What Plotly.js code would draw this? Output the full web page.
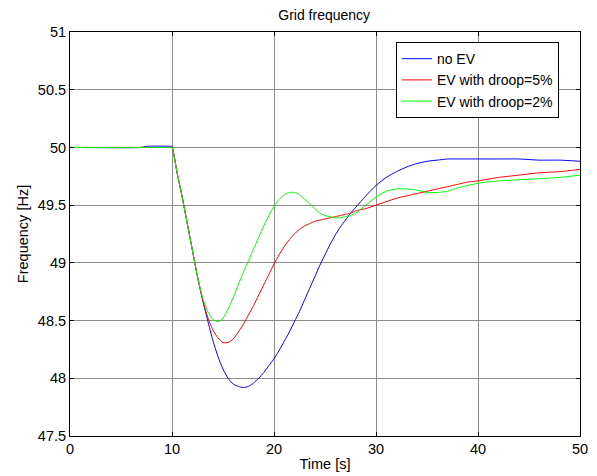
<!DOCTYPE html>
<html>
<head>
<meta charset="utf-8">
<script src="https://cdn.plot.ly/plotly-3.0.1.min.js"></script>
<style>html,body{margin:0;padding:0;background:#fff;}#chart{width:597px;height:476px;}</style>
</head>
<body>
<div id="chart"></div>
<script>
const time = [0, 7, 7.5, 9.9, 10, 10.5, 11, 11.5, 12, 12.5, 13, 13.5, 14, 14.5, 15, 15.5, 16, 16.5, 17, 17.5, 18, 18.5, 19, 19.5, 20, 20.5, 21, 21.5, 22, 22.5, 23, 23.5, 24, 24.5, 25, 25.5, 26, 26.5, 27, 27.5, 28, 29, 30, 31, 32, 33, 34, 35, 36, 37, 38, 39, 40, 42, 44, 46, 48, 50];
const noEV = [50, 50, 50.01, 50.01, 50.01, 49.78, 49.57, 49.34, 49.11, 48.88, 48.68, 48.50, 48.33, 48.19, 48.08, 48.00, 47.95, 47.93, 47.92, 47.93, 47.96, 48.00, 48.05, 48.11, 48.17, 48.24, 48.32, 48.40, 48.49, 48.58, 48.68, 48.78, 48.88, 48.98, 49.07, 49.16, 49.24, 49.31, 49.37, 49.43, 49.48, 49.58, 49.67, 49.74, 49.79, 49.83, 49.86, 49.88, 49.89, 49.90, 49.90, 49.90, 49.90, 49.90, 49.90, 49.89, 49.89, 49.88];
const droop5 = [50, 50, 50, 50, 50, 49.78, 49.57, 49.34, 49.11, 48.88, 48.68, 48.53, 48.42, 48.35, 48.31, 48.31, 48.34, 48.40, 48.47, 48.55, 48.63, 48.72, 48.81, 48.90, 48.99, 49.07, 49.14, 49.20, 49.25, 49.29, 49.32, 49.34, 49.36, 49.37, 49.38, 49.39, 49.40, 49.41, 49.42, 49.43, 49.45, 49.47, 49.50, 49.53, 49.56, 49.58, 49.60, 49.62, 49.64, 49.66, 49.68, 49.70, 49.71, 49.74, 49.76, 49.78, 49.79, 49.81];
const droop2 = [50, 50, 50, 50, 50, 49.78, 49.57, 49.34, 49.11, 48.88, 48.70, 48.58, 48.51, 48.49, 48.52, 48.60, 48.70, 48.81, 48.92, 49.02, 49.12, 49.22, 49.32, 49.41, 49.49, 49.55, 49.59, 49.61, 49.61, 49.59, 49.55, 49.51, 49.47, 49.43, 49.41, 49.40, 49.39, 49.39, 49.40, 49.41, 49.43, 49.50, 49.57, 49.62, 49.64, 49.64, 49.63, 49.61, 49.61, 49.62, 49.65, 49.67, 49.69, 49.71, 49.72, 49.73, 49.74, 49.76];
const seriesNames = ['no EV', 'EV with droop=5%', 'EV with droop=2%'];
const xTicks = [0, 10, 20, 30, 40, 50];
const yTicks = [47.5, 48, 48.5, 49, 49.5, 50, 50.5, 51];
const yTickText = ['47.5', '48', '48.5', '49', '49.5', '50', '50.5', '51'];

const colors = ['#0000ff', '#ff0000', '#00ff00'];
const ys = [noEV, droop5, droop2];
const traces = ys.map((y, i) => ({
  x: time, y: y, name: seriesNames[i], type: 'scatter', mode: 'lines',
  line: {color: colors[i], width: 1, shape: 'spline', smoothing: 0.6}
}));

const FONT = 'Liberation Sans, Arial, sans-serif';
const axisCommon = {
  showline: true, linecolor: '#000', linewidth: 1, mirror: 'ticks',
  ticks: 'inside', ticklen: 4, tickcolor: '#000',
  showgrid: true, gridcolor: '#8c8c8c', gridwidth: 1, zeroline: false,
  tickfont: {family: FONT, size: 14.5, color: '#000'}
};

const layout = {
  width: 597, height: 476,
  margin: {l: 70, r: 17, t: 32, b: 40},
  paper_bgcolor: '#fff', plot_bgcolor: '#fff',
  font: {family: FONT, size: 14, color: '#000'},
  title: {text: 'Grid frequency', x: 0.543, xanchor: 'center', y: 0.968, yanchor: 'middle',
          font: {family: FONT, size: 14, color: '#000'}},
  xaxis: Object.assign({}, axisCommon, {
    range: [0, 50], tickvals: xTicks, ticktext: xTicks.map(String),
    title: {text: 'Time [s]', standoff: 2, font: {family: FONT, size: 14.5}}
  }),
  yaxis: Object.assign({}, axisCommon, {
    range: [47.5, 51], tickvals: yTicks, ticktext: yTickText,
    title: {text: 'Frequency [Hz]', standoff: 5, font: {family: FONT, size: 14.5}}
  }),
  showlegend: true,
  legend: {
    x: 0.639, y: 0.975, xanchor: 'left', yanchor: 'top',
    bgcolor: '#fff', bordercolor: '#000', borderwidth: 1,
    font: {family: FONT, size: 14, color: '#000'},
    tracegroupgap: 0
  }
};

Plotly.newPlot('chart', traces, layout, {staticPlot: true, displayModeBar: false});
</script>
</body>
</html>
